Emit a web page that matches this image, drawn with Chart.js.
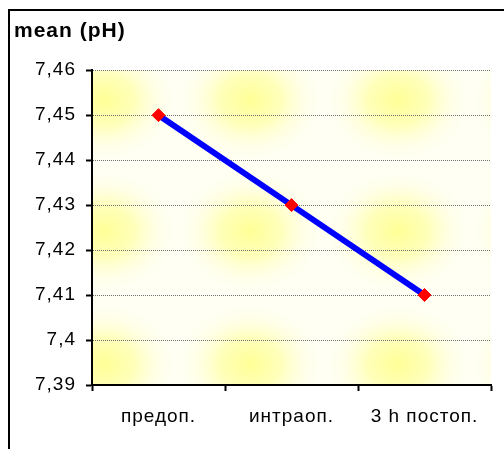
<!DOCTYPE html>
<html>
<head>
<meta charset="utf-8">
<script src="https://cdn.jsdelivr.net/npm/chart.js@4/dist/chart.umd.min.js"></script>
<style>
  html, body { margin: 0; padding: 0; background: #ffffff; overflow: hidden; }
  #wrap { position: relative; width: 504px; height: 449px; }
</style>
</head>
<body>
<div id="wrap"><canvas id="chart"></canvas></div>
<script>
// Mean blood pH at three time points
const categories = ['предоп.', 'интраоп.', '3 h постоп.'];
const meanPH = [7.45, 7.43, 7.41];
const yTickValues = [7.39, 7.40, 7.41, 7.42, 7.43, 7.44, 7.45, 7.46];

const FONT = "'Liberation Sans', Arial, sans-serif";

// Frame lines, wider letter spacing and the soft yellow texture behind the plot area
const framePlugin = {
  id: 'frame',
  beforeLayout(chart) {
    chart.ctx.letterSpacing = '1px';
  },
  beforeDraw(chart) {
    const ctx = chart.ctx;
    const a = chart.chartArea;
    ctx.save();
    ctx.fillStyle = '#000000';
    ctx.fillRect(8, 9, 496, 2);
    ctx.fillRect(8, 9, 2, 440);

    ctx.beginPath();
    ctx.rect(a.left, a.top, a.right - a.left, a.bottom - a.top);
    ctx.clip();
    ctx.fillStyle = '#fffff4';
    ctx.fillRect(a.left, a.top, a.right - a.left, a.bottom - a.top);
    const xs = [-132, 12, 158, 306, 452];
    const ys = [-101, 30, 161, 294, 425];
    const rx = 76, ry = 64;
    for (const cx of xs) {
      for (const cy of ys) {
        ctx.save();
        ctx.translate(a.left + cx, a.top + cy);
        ctx.scale(1, ry / rx);
        const g = ctx.createRadialGradient(0, 0, 0, 0, 0, rx);
        g.addColorStop(0, 'rgba(255,255,140,0.9)');
        g.addColorStop(0.4, 'rgba(255,255,150,0.62)');
        g.addColorStop(0.75, 'rgba(255,255,200,0.22)');
        g.addColorStop(1, 'rgba(255,255,230,0)');
        ctx.fillStyle = g;
        ctx.fillRect(-rx, -rx, rx * 2, rx * 2);
        ctx.restore();
      }
    }
    ctx.restore();
    ctx.letterSpacing = '1px';
  }
};

new Chart(document.getElementById('chart'), {
  type: 'line',
  data: {
    labels: categories,
    datasets: [{
      data: meanPH,
      borderColor: '#0000ff',
      borderWidth: 6,
      pointStyle: 'rectRot',
      pointRadius: 6.5,
      pointHoverRadius: 6.5,
      pointBackgroundColor: '#ff0000',
      pointBorderColor: '#ff0000',
      pointBorderWidth: 1,
      tension: 0,
      fill: false
    }]
  },
  options: {
    responsive: true,
    maintainAspectRatio: false,
    animation: false,
    events: [],
    layout: { padding: { left: 14, right: 13, top: 0, bottom: 0 } },
    plugins: {
      legend: { display: false },
      tooltip: { enabled: false },
      title: {
        display: true,
        text: 'mean (pH)',
        align: 'start',
        color: '#000000',
        font: { family: FONT, size: 21, weight: 'bold', lineHeight: 1.2 },
        padding: { top: 19, bottom: 26 }
      }
    },
    scales: {
      x: {
        type: 'category',
        offset: true,
        grid: {
          offset: true,
          drawOnChartArea: false,
          drawTicks: true,
          tickLength: 6,
          tickColor: '#000000',
          tickWidth: 2,
          tickBorderDash: []
        },
        border: { display: true, color: '#000000', width: 2 },
        ticks: {
          color: '#000000',
          font: { family: FONT, size: 19 },
          padding: 14,
          maxRotation: 0,
          autoSkip: false
        },
        afterFit(scale) { scale.height = 64; }
      },
      y: {
        min: 7.39,
        max: 7.46,
        afterBuildTicks(scale) {
          scale.ticks = yTickValues.map(v => ({ value: v }));
        },
        grid: {
          color: '#707070',
          lineWidth: 1,
          drawTicks: true,
          tickLength: 6,
          tickColor: '#000000',
          tickWidth: 2,
          tickBorderDash: []
        },
        border: { display: true, color: '#000000', width: 2, dash: [1, 1] },
        ticks: {
          color: '#000000',
          font: { family: FONT, size: 19 },
          padding: 10,
          callback(value) {
            return String(Math.round(value * 100) / 100).replace('.', ',');
          }
        },
        afterFit(scale) { scale.width = 78; }
      }
    }
  },
  plugins: [framePlugin]
});
</script>
</body>
</html>
